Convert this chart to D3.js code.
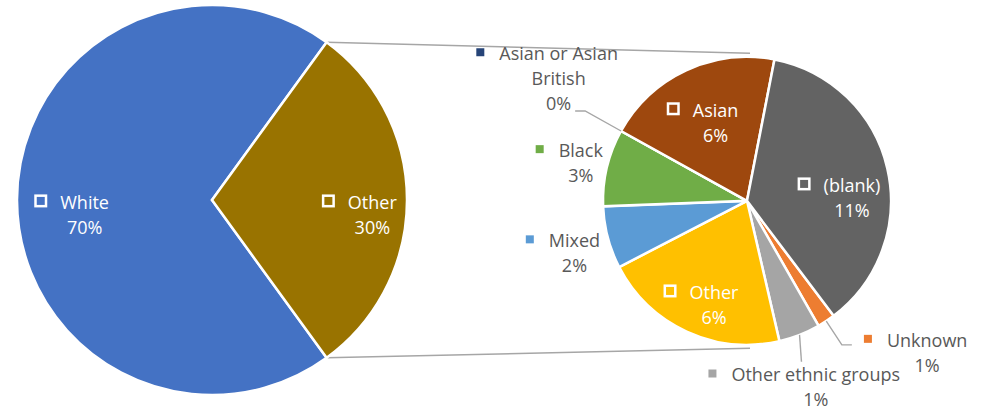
<!DOCTYPE html>
<html>
<head>
<meta charset="utf-8">
<script src="https://cdn.jsdelivr.net/npm/d3@7"></script>
<style>
  body { margin: 0; background: #fff; }
  svg { display: block; }
  text { font-family: "Open Sans", sans-serif; font-size: 18px; }
</style>
</head>
<body>
<svg id="chart" width="989" height="410"></svg>
<script>
// Ethnicity shares (percent of total)
const mainCategories = ["White", "Other"];
const whiteShare = 70.0;
const otherCategories = ["Unknown", "Other ethnic groups", "Other", "Mixed", "Black",
                         "Asian or Asian British", "Asian", "(blank)"];
const otherValues = [0.6, 1.4, 6.3, 2.1, 2.6, 0.0, 6.0, 11.0];
const mainValues = [whiteShare, d3.sum(otherValues)];

const mainColors = ["#4472C4", "#997300"];
const otherColors = ["#ED7D31", "#A5A5A5", "#FFC000", "#5B9BD5", "#70AD47",
                     "#264478", "#9E480E", "#636363"];

// Geometry
const mainPie = { cx: 212, cy: 200, r: 195 };
const subPie = { cx: 747, cy: 200.8, r: 144 };
const subStartDeg = 143;

// Label anchors: angle (deg, clockwise from 12 o'clock) and distance as a fraction of radius
const mainLabelLayout = {
  "White": { a: 263.1, k: 0.658 },
  "Other": { a: 95.5, k: 0.826 }
};
const subLabelLayout = {
  "Unknown":                { a: 130.2, k: 1.638, leader: [[-85.3, -8.2], [-75.3, -8.2]] },
  "Other ethnic groups":    { a: 159.8, k: 1.383, leader: [[-14.3, -26.0]] },
  "Other":                  { a: 197.5, k: 0.762, inside: true },
  "Mixed":                  { a: 253.0, k: 1.253 },
  "Black":                  { a: 282.7, k: 1.183 },
  "Asian or Asian British": { a: 302.9, k: 1.558, leader: [[26.5, 32], [16.5, 32]] },
  "Asian":                  { a: 337.9, k: 0.581, inside: true },
  "(blank)":                { a: 88.7, k: 0.729, inside: true }
};
const labelWrap = { "Asian or Asian British": ["Asian or Asian", "British"] };

const deg = Math.PI / 180;
const svg = d3.select("#chart");
const total = d3.sum(mainValues);
const fmt = v => Math.round(v / total * 100) + "%";

function polar(c, aDeg, d) {
  return [c.cx + d * Math.sin(aDeg * deg), c.cy - d * Math.cos(aDeg * deg)];
}

// Main pie: the "Other" slice is centred on 3 o'clock
const otherSweep = mainValues[1] / total * 360;
const mainStartDeg = 90 + otherSweep / 2;
const mainArcs = d3.pie().sort(null)
  .startAngle(mainStartDeg * deg).endAngle((mainStartDeg + 360) * deg)(mainValues);

const subArcs = d3.pie().sort(null)
  .startAngle(subStartDeg * deg).endAngle((subStartDeg + 360) * deg)(otherValues);

// Connector lines between the pies
const topStart = polar(mainPie, mainStartDeg - otherSweep, mainPie.r);
const botStart = polar(mainPie, mainStartDeg, mainPie.r);
const connectors = [
  [topStart, [subPie.cx + 3, subPie.cy - subPie.r - 3.5]],
  [botStart, [subPie.cx + 3, subPie.cy + subPie.r + 3.5]]
];
svg.selectAll("line.connector").data(connectors).join("line")
  .attr("class", "connector")
  .attr("x1", d => d[0][0]).attr("y1", d => d[0][1])
  .attr("x2", d => d[1][0]).attr("y2", d => d[1][1])
  .attr("stroke", "#A6A6A6").attr("stroke-width", 1.5);

// Slices
const mainArc = d3.arc().innerRadius(0).outerRadius(mainPie.r);
svg.append("g").attr("transform", `translate(${mainPie.cx},${mainPie.cy})`)
  .selectAll("path").data(mainArcs).join("path")
  .attr("d", mainArc)
  .attr("fill", (d, i) => mainColors[i])
  .attr("stroke", "#fff").attr("stroke-width", 2.5).attr("stroke-linejoin", "miter");

const subArc = d3.arc().innerRadius(0).outerRadius(subPie.r);
svg.append("g").attr("transform", `translate(${subPie.cx},${subPie.cy})`)
  .selectAll("path").data(subArcs).join("path")
  .attr("d", subArc)
  .attr("fill", (d, i) => otherColors[i])
  .attr("stroke", "#fff").attr("stroke-width", 2.5).attr("stroke-linejoin", "miter");

// Labels with legend keys
const labelLayer = svg.append("g");
function drawLabel(x, y, lines, color, inside) {
  const n = lines.length;
  const firstBase = y - (n - 1) * 12.5 + 6;
  const t = labelLayer.append("text")
    .attr("text-anchor", "middle")
    .attr("fill", inside ? "#FFFFFF" : "#595959");
  lines.forEach((s, i) => {
    t.append("tspan").attr("x", x).attr("y", firstBase + i * 25).text(s);
  });
  const w = t.select("tspan").node().getComputedTextLength();
  const left = x - w / 2;
  if (inside) {
    const s = 10.5;
    labelLayer.append("rect")
      .attr("x", left - 13 - 1.25 - s).attr("y", firstBase - 8 - s / 2)
      .attr("width", s).attr("height", s)
      .attr("fill", color).attr("stroke", "#FFFFFF").attr("stroke-width", 2.5);
  } else {
    const s = 8;
    labelLayer.append("rect")
      .attr("x", left - 15 - s).attr("y", firstBase - 7.7 - s / 2)
      .attr("width", s).attr("height", s)
      .attr("fill", color);
  }
}

mainArcs.forEach((d, i) => {
  const name = mainCategories[i];
  const L = mainLabelLayout[name];
  const [x, y] = polar(mainPie, L.a, L.k * mainPie.r);
  drawLabel(x, y, [name, fmt(d.value)], mainColors[i], true);
});

subArcs.forEach((d, i) => {
  const name = otherCategories[i];
  const L = subLabelLayout[name];
  const [x, y] = polar(subPie, L.a, L.k * subPie.r);
  if (L.leader) {
    const mid = (d.startAngle + d.endAngle) / 2 / deg;
    const pts = [polar(subPie, mid, subPie.r)].concat(L.leader.map(o => [x + o[0], y + o[1]]));
    labelLayer.append("path")
      .attr("d", d3.line()(pts))
      .attr("fill", "none").attr("stroke", "#A6A6A6").attr("stroke-width", 1.4);
  }
  const lines = (labelWrap[name] || [name]).concat([fmt(d.value)]);
  drawLabel(x, y, lines, otherColors[i], !!L.inside);
});
</script>
</body>
</html>
